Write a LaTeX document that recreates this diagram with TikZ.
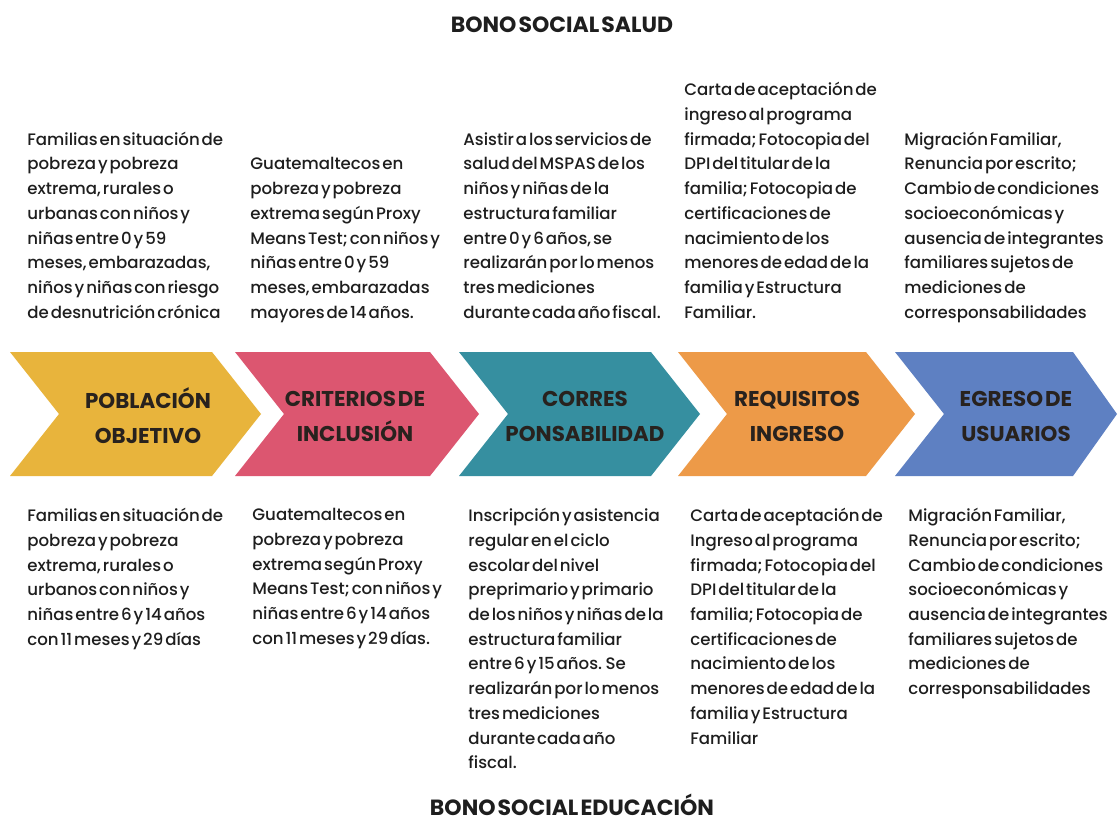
\documentclass[tikz,border=0pt]{standalone}
\usepackage{fontspec}
\setmainfont{Poppins}[WordSpace=0.45, UprightFont=* Medium, BoldFont=* Bold]
\definecolor{cYel}{RGB}{232,180,60}
\definecolor{cPink}{RGB}{220,86,112}
\definecolor{cTeal}{RGB}{54,143,160}
\definecolor{cOra}{RGB}{237,154,72}
\definecolor{cBlue}{RGB}{94,128,194}
\definecolor{ink}{RGB}{30,30,30}
\definecolor{headink}{RGB}{40,34,30}
\begin{document}
\begin{tikzpicture}[x=0.5pt, y=-0.5pt, every node/.style={inner sep=0pt, text=ink},
  body/.style={align=left, font=\fontsize{8.3}{12.35}\selectfont, execute at begin node=\strut, execute at end node=\strut},
  toptxt/.style={body, anchor=south west}, bottxt/.style={body, anchor=north west},
  head/.style={align=center, font=\fontsize{10.7}{17.5}\selectfont\bfseries, text=headink},
  title/.style={font=\fontsize{11}{13}\selectfont\bfseries}]
\fill[white] (0,0) rectangle (1118,829);
\useasboundingbox (0,0) rectangle (1118,829);
% titles
\node[title] (tSalud) at (562,25) {BONO SOCIAL SALUD};
\node[title] (tEduc) at (572,805) {BONO SOCIAL EDUCACIÓN};
% chevrons
\fill[cYel] (10,352) -- (212,352) -- (261,414) -- (212,476) -- (10,476) -- (59,414) -- cycle;
\fill[cPink] (235,352) -- (430,352) -- (479,414) -- (430,476) -- (235,476) -- (284,414) -- cycle;
\fill[cTeal] (459,352) -- (651,352) -- (700,414) -- (651,476) -- (459,476) -- (508,414) -- cycle;
\fill[cOra] (678,352) -- (866,352) -- (915,414) -- (866,476) -- (678,476) -- (727,414) -- cycle;
\fill[cBlue] (895,352) -- (1073,352) -- (1117,414) -- (1073,476) -- (895,476) -- (944,414) -- cycle;
\node[head] (hPob) at (148,416) {POBLACIÓN\\OBJETIVO};
\node[head] (hCri) at (355,416) {CRITERIOS DE\\INCLUSIÓN};
\node[head] (hCor) at (585,416) {CORRES\\PONSABILIDAD};
\node[head] (hReq) at (797,416) {REQUISITOS\\INGRESO};
\node[head] (hEgr) at (1016,416) {EGRESO DE\\USUARIOS};
% salud row
\node[toptxt] (sPob) at (27,326) {Familias en situación de\\pobreza y pobreza\\extrema, rurales o\\urbanas con niños y\\niñas entre 0 y 59\\meses, embarazadas,\\niños y niñas con riesgo\\de desnutrición crónica};
\node[toptxt] (sCri) at (250,326) {Guatemaltecos en\\pobreza y pobreza\\extrema según Proxy\\Means Test; con niños y\\niñas entre 0 y 59\\meses, embarazadas\\mayores de 14 años.};
\node[toptxt] (sCor) at (463,326) {Asistir a los servicios de\\salud del MSPAS de los\\niños y niñas de la\\estructura familiar\\entre 0 y 6 años, se\\realizarán por lo menos\\tres mediciones\\durante cada año fiscal.};
\node[toptxt] (sReq) at (684,326) {Carta de aceptación de\\ingreso al programa\\firmada; Fotocopia del\\DPI del titular de la\\familia; Fotocopia de\\certificaciones de\\nacimiento de los\\menores de edad de la\\familia y Estructura\\Familiar.};
\node[toptxt] (sEgr) at (904,326) {Migración Familiar,\\Renuncia por escrito;\\Cambio de condiciones\\socioeconómicas y\\ausencia de integrantes\\familiares sujetos de\\mediciones de\\corresponsabilidades};
% educacion row
\node[bottxt] (ePob) at (27,508) {Familias en situación de\\pobreza y pobreza\\extrema, rurales o\\urbanos con niños y\\niñas entre 6 y 14 años\\con 11 meses y 29 días};
\node[bottxt] (eCri) at (252,508) {Guatemaltecos en\\pobreza y pobreza\\extrema según Proxy\\Means Test; con niños y\\niñas entre 6 y 14 años\\con 11 meses y 29 días.};
\node[bottxt] (eCor) at (468,508) {Inscripción y asistencia\\regular en el ciclo\\escolar del nivel\\preprimario y primario\\de los niños y niñas de la\\estructura familiar\\entre 6 y 15 años. Se\\realizarán por lo menos\\tres mediciones\\durante cada año\\fiscal.};
\node[bottxt] (eReq) at (690,508) {Carta de aceptación de\\Ingreso al programa\\firmada; Fotocopia del\\DPI del titular de la\\familia; Fotocopia de\\certificaciones de\\nacimiento de los\\menores de edad de la\\familia y Estructura\\Familiar};
\node[bottxt] (eEgr) at (908,508) {Migración Familiar,\\Renuncia por escrito;\\Cambio de condiciones\\socioeconómicas y\\ausencia de integrantes\\familiares sujetos de\\mediciones de\\corresponsabilidades};
\end{tikzpicture}
\end{document}
